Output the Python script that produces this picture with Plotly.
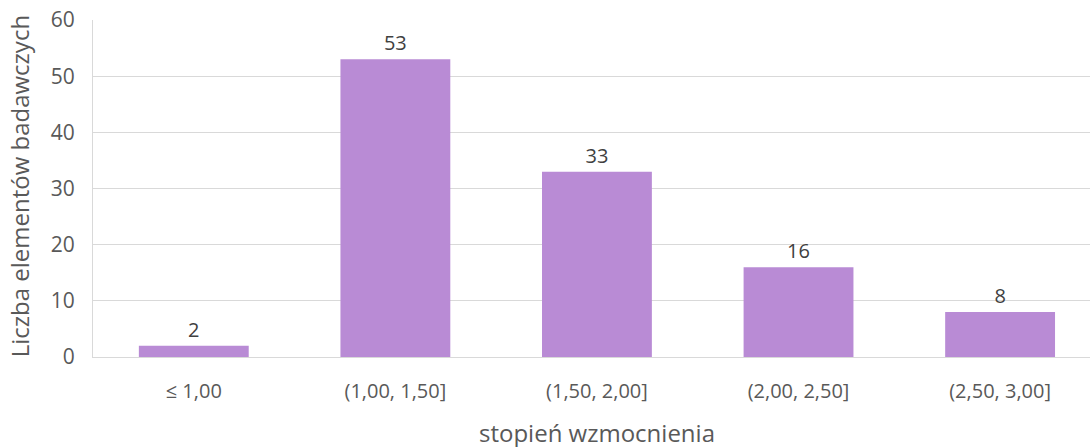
import plotly.graph_objects as go

categories = ["≤ 1,00", "(1,00, 1,50]", "(1,50, 2,00]", "(2,00, 2,50]", "(2,50, 3,00]"]
values = [2, 53, 33, 16, 8]
y_ticks = [0, 10, 20, 30, 40, 50, 60]

font_family = "Open Sans, Noto Sans, sans-serif"

fig = go.Figure(go.Bar(
    x=list(range(len(categories))),
    y=values,
    width=0.545,
    marker=dict(color="#B98BD5", line=dict(width=0)),
    text=[str(v) for v in values],
    textposition="outside",
    textfont=dict(size=20, color="#404040", family=font_family),
    cliponaxis=False,
    hoverinfo="skip",
))

fig.update_layout(
    width=1090, height=447,
    margin=dict(l=93, r=0, t=20, b=90),
    paper_bgcolor="white", plot_bgcolor="white",
    showlegend=False,
    font=dict(family=font_family, color="#595959"),
    xaxis=dict(
        range=[-0.5, 4.446],
        tickmode="array",
        tickvals=list(range(len(categories))),
        ticktext=categories,
        tickfont=dict(size=20, color="#595959"),
        showgrid=False,
        showline=True, linecolor="#D9D9D9", linewidth=1,
        ticks="outside", ticklen=16, tickcolor="rgba(0,0,0,0)",
        zeroline=False,
        automargin=False,
    ),
    yaxis=dict(
        range=[0, 60],
        tickvals=y_ticks,
        tickfont=dict(size=21, color="#595959"),
        showgrid=True, gridcolor="#D9D9D9", gridwidth=1,
        showline=True, linecolor="#D9D9D9", linewidth=1,
        zeroline=False,
        ticks="outside", ticklen=13, tickcolor="rgba(0,0,0,0)",
        automargin=False,
    ),
    annotations=[
        dict(
            text="stopień wzmocnienia", xref="paper", yref="paper",
            x=0.5055, y=-0.168, xanchor="center", yanchor="top",
            showarrow=False, font=dict(size=24, color="#595959", family=font_family),
        ),
        dict(
            text="Liczba elementów badawczych", xref="paper", yref="paper",
            x=-0.074, y=0.507, xanchor="center", yanchor="middle", textangle=-90,
            showarrow=False, font=dict(size=24, color="#595959", family=font_family),
        ),
    ],
)

fig.write_html(
    "out.html",
    config={"displayModeBar": False},
    post_script="document.body.style.margin='0';document.body.style.overflow='hidden';",
)
